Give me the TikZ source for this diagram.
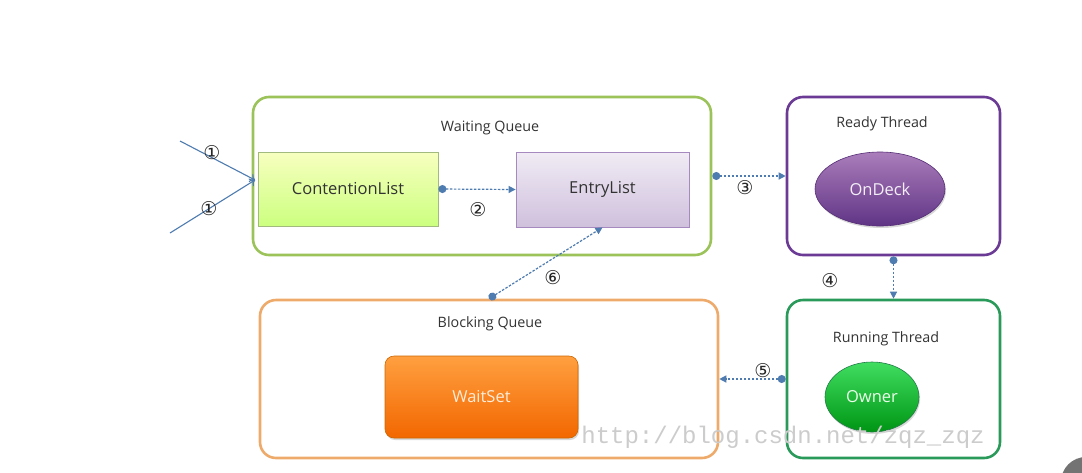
\documentclass[tikz,border=0pt]{standalone}
\usepackage{fontspec}
\setmainfont{Open Sans}
\newfontfamily\symf{DejaVu Sans}
\newfontfamily\wmf{Liberation Mono}
\usetikzlibrary{arrows.meta,shapes.geometric,shadows,calc}
\definecolor{wqc}{HTML}{9BC35A}
\definecolor{rdc}{HTML}{6A3A94}
\definecolor{rnc}{HTML}{2A9A5A}
\definecolor{bqc}{HTML}{EEAA6A}
\definecolor{linkc}{HTML}{4F7CB0}
\definecolor{txtc}{HTML}{333333}
\begin{document}
\begin{tikzpicture}[x=1pt,y=-1pt,
  container/.style={draw, rounded corners=16pt, line width=2.6pt, inner sep=0pt, fill=white},
  title/.style={font=\fontsize{14.3}{16}\selectfont, text=txtc, inner sep=0pt},
  inner/.style={font=\fontsize{16.5}{18}\selectfont, inner sep=0pt},
  conn/.style={draw=linkc, line width=1.2pt, dash pattern=on 2.5pt off 1.5pt,
     {Circle[length=8pt]}-{Triangle[length=7pt,width=7pt]}},
  inarrow/.style={draw=linkc, line width=1.1pt, -{To[length=5pt,width=9pt]}},
  num/.style={font=\symf\fontsize{19}{20}\selectfont, text=black!85, inner sep=0pt}
]
\useasboundingbox (0,0) rectangle (1082,472);
\fill[white] (0,0) rectangle (1082,472);

% containers
\node[container, draw=wqc, minimum width=458pt, minimum height=158pt] (wq) at (482,176) {};
\node[container, draw=rdc, minimum width=213pt, minimum height=158pt] (rt) at (893.5,176) {};
\node[container, draw=rnc, minimum width=213pt, minimum height=158pt] (rn) at (893.5,379) {};
\node[container, draw=bqc, minimum width=458pt, minimum height=158pt] (bq) at (489,379) {};

% titles
\node[title] (wqt) at (490,128) {Waiting Queue};
\node[title] (rtt) at (882,124) {Ready Thread};
\node[title] (rnt) at (886,339) {Running Thread};
\node[title] (bqt) at (490,324) {Blocking Queue};

% inner elements
\node[inner, draw=wqc!80!black!70, line width=0.8pt, top color=green!12!yellow!25, bottom color=green!40!yellow!50,
      minimum width=180pt, minimum height=74pt, text=txtc] (cl) at (348,189) {ContentionList};
\node[inner, draw=rdc!60, line width=0.8pt, top color=rdc!10, bottom color=rdc!32,
      minimum width=173pt, minimum height=75pt, text=txtc] (el) at (602.5,189.5) {EntryList};
\node[inner, ellipse, draw=rdc!80!black, line width=0.6pt, top color=rdc!65!violet!60!white, bottom color=rdc!90!black,
      drop shadow={opacity=0.3,shadow xshift=1pt,shadow yshift=-2pt},
      minimum width=130pt, minimum height=74pt, text=rdc!8] (od) at (880,189) {OnDeck};
\node[inner, ellipse, draw=rnc!80!black, line width=0.6pt, top color=green!65!teal!75, bottom color=green!60!black!85!teal,
      drop shadow={opacity=0.3,shadow xshift=1pt,shadow yshift=-2pt},
      minimum width=94pt, minimum height=70pt, text=green!8] (ow) at (872,397) {Owner};
\node[inner, rounded corners=9pt, draw=orange!80!black, line width=0.6pt, top color=orange!75, bottom color=orange!85!red!95!black,
      drop shadow={opacity=0.3,shadow xshift=1pt,shadow yshift=-2pt},
      minimum width=193pt, minimum height=82pt, text=orange!15] (ws) at (481.5,397) {WaitSet};

% watermark
\node[font=\wmf\fontsize{24}{26}\selectfont, text=black!20, inner sep=0pt] (wm) at (783,437) {http://blog.csdn.net/zqz\_zqz};
\fill[black!55] (1086,482) circle (25pt);

% incoming arrows
\coordinate (s1) at (180,141);
\coordinate (s2) at (170,233);
\coordinate (in1) at (255,180);
\draw[inarrow] (s1) -- (in1);
\draw[inarrow] (s2) -- (in1);

% connectors
\draw[conn] (cl.east) -- (el.west);
\draw[conn] (wq.east) -- (rt.west);
\draw[conn] (rt.south) -- (rn.north);
\draw[conn] (rn.west) -- (bq.east);
\draw[conn] (bq.north) -- (el.south);

% numbers
\node[num] (n1a) at (212,153) {①};
\node[num] (n1b) at (209,209) {①};
\node[num] (n2) at (478,210) {②};
\node[num] (n3) at (745,188) {③};
\node[num] (n4) at (830,281) {④};
\node[num] (n5) at (763,371) {⑤};
\node[num] (n6) at (553,278) {⑥};
\end{tikzpicture}
\end{document}
